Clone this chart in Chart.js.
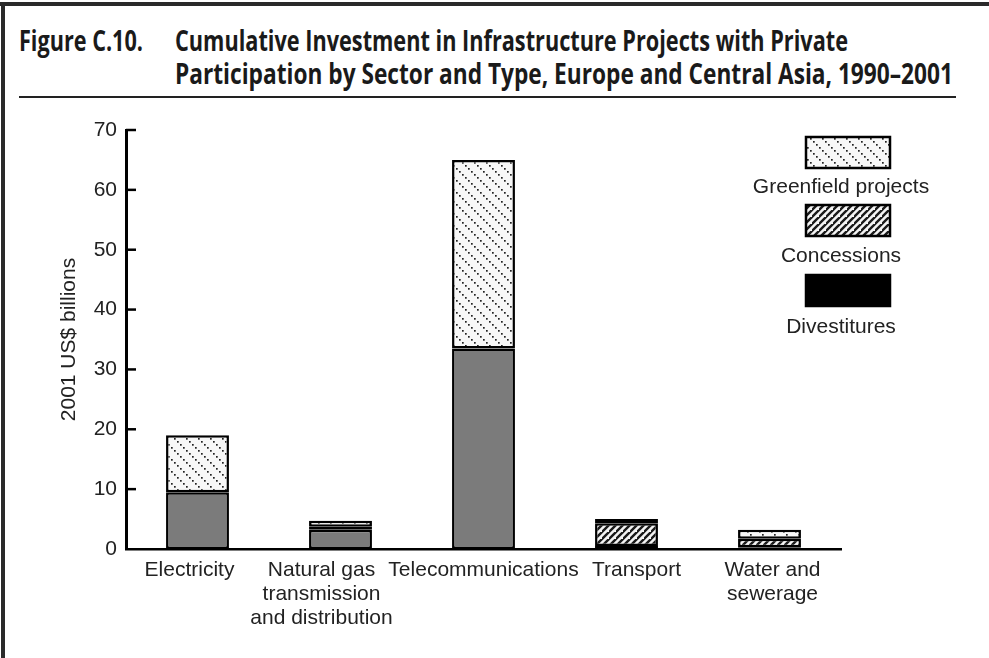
<!DOCTYPE html>
<html>
<head>
<meta charset="utf-8">
<script src="https://cdn.jsdelivr.net/npm/chart.js@4.4.1/dist/chart.umd.min.js"></script>
<style>
  html, body { margin: 0; padding: 0; background: #fff; }
  #wrap { position: relative; width: 989px; height: 658px; overflow: hidden; background: #fff; }
  #frameTop { position: absolute; left: 0; top: 2px; width: 989px; height: 4px; background: #2a2a2a; }
  #frameLeft { position: absolute; left: 1px; top: 2px; width: 4px; height: 656px; background: #2a2a2a; }
  .title { position: absolute; font-family: "Open Sans", sans-serif; font-weight: bold;
           font-size: 28px; line-height: 1; color: #1a1a1a; white-space: nowrap; transform-origin: 0 0; }
  #rule { position: absolute; left: 19px; top: 96px; width: 937px; height: 2px; background: #222; }
  canvas { position: absolute; left: 0; top: 0; }
</style>
</head>
<body>
<div id="wrap">
  <div id="frameTop"></div>
  <div id="frameLeft"></div>
  <div class="title" id="t1a" style="left:19px; top:26px;">Figure C.10.</div>
  <div class="title" id="t1b" style="left:175px; top:26px;">Cumulative Investment in Infrastructure Projects with Private</div>
  <div class="title" id="t2" style="left:175px; top:59px;">Participation by Sector and Type, Europe and Central Asia, 1990–2001</div>
  <div id="rule"></div>
  <canvas id="c" width="989" height="658"></canvas>
</div>
<script>
// ---- Data ----
const categories = [["Electricity"], ["Natural gas", "transmission", "and distribution"], ["Telecommunications"], ["Transport"], ["Water and", "sewerage"]];
const divestitures = [9.5, 3.2, 33.5, 0.5, 0.3];
const concessions = [0, 0.5, 0, 3.8, 1.4];
const greenfield = [9.5, 1.0, 31.5, 0.7, 1.5];
const yTicks = [0, 10, 20, 30, 40, 50, 60, 70];
const seriesNames = ["Greenfield projects", "Concessions", "Divestitures"];
const yTitle = "2001 US$ billions";

// label nudges (style only, pixels) so the category labels sit as in the original
const labelNudge = [-8, -19, 0, 10, 3];

// fit title widths
function fit(id, w) {
  const el = document.getElementById(id);
  const r = el.getBoundingClientRect().width;
  el.style.transform = "scaleX(" + (w / r) + ")";
}
fit("t1a", 124); fit("t1b", 673); fit("t2", 778);

// ---- Patterns ----
function greenPattern() {
  const s = 12, cv = document.createElement("canvas");
  cv.width = s; cv.height = s;
  const g = cv.getContext("2d");
  g.fillStyle = "#f7f7f7"; g.fillRect(0, 0, s, s);
  g.fillStyle = "#222";
  for (let i = 0; i < s; i += 3) { g.fillRect(i, i, 1.7, 1.7); }
  return g.createPattern(cv, "repeat");
}
function concPattern() {
  const s = 7, cv = document.createElement("canvas");
  cv.width = s; cv.height = s;
  const g = cv.getContext("2d");
  g.fillStyle = "#f4f4f4"; g.fillRect(0, 0, s, s);
  g.strokeStyle = "#1a1a1a"; g.lineWidth = 2.4;
  g.beginPath();
  g.moveTo(-1, s + 1); g.lineTo(s + 1, -1);
  g.moveTo(-1 - s, s + 1); g.lineTo(1, -1);
  g.moveTo(s - 1, 2 * s + 1); g.lineTo(2 * s + 1, s - 1);
  g.stroke();
  return g.createPattern(cv, "repeat");
}
const gp = greenPattern(), cp = concPattern();

const FONT = "'Liberation Sans', Arial, Helvetica, sans-serif";
const FS = 21;

const extras = {
  id: "extras",
  afterDraw(chart) {
    const ctx = chart.ctx, y = chart.scales.y, x = chart.scales.x, x0 = chart.chartArea.left;
    ctx.save();
    // inward y ticks
    ctx.strokeStyle = "#000"; ctx.lineWidth = 2.5;
    yTicks.forEach(v => {
      if (v === 0) return;
      const py = y.getPixelForValue(v);
      ctx.beginPath(); ctx.moveTo(x0, py); ctx.lineTo(x0 + 10, py); ctx.stroke();
    });
    // category labels
    ctx.fillStyle = "#222";
    ctx.font = FS + "px " + FONT;
    ctx.textAlign = "center"; ctx.textBaseline = "middle";
    const baseY = chart.chartArea.bottom + 21;
    categories.forEach((lines, i) => {
      const px = x.getPixelForValue(i) + labelNudge[i];
      lines.forEach((t, j) => ctx.fillText(t, px, baseY + j * 24));
    });
    // legend
    const items = [
      { fill: gp, label: seriesNames[0], by: 137, ty: 187 },
      { fill: cp, label: seriesNames[1], by: 205, ty: 256 },
      { fill: "#000", label: seriesNames[2], by: 275, ty: 327 }
    ];
    items.forEach(it => {
      ctx.fillStyle = it.fill;
      ctx.fillRect(806, it.by, 84, 31);
      ctx.strokeStyle = "#000"; ctx.lineWidth = 2.5;
      ctx.strokeRect(806, it.by, 84, 31);
      ctx.fillStyle = "#222";
      ctx.fillText(it.label, 841, it.ty);
    });
    ctx.restore();
  }
};

new Chart(document.getElementById("c"), {
  type: "bar",
  data: {
    labels: categories,
    datasets: [
      { label: seriesNames[2], data: divestitures, backgroundColor: "#7b7b7b", borderColor: "#000", borderWidth: 2.5, borderSkipped: false },
      { label: seriesNames[1], data: concessions, backgroundColor: cp, borderColor: "#000", borderWidth: 2.5, borderSkipped: false },
      { label: seriesNames[0], data: greenfield, backgroundColor: gp, borderColor: "#000", borderWidth: 2.5, borderSkipped: false }
    ]
  },
  options: {
    responsive: false,
    animation: false,
    layout: { padding: { top: 130, right: 148, left: 0, bottom: 0 } },
    plugins: { legend: { display: false }, tooltip: { enabled: false } },
    datasets: { bar: { categoryPercentage: 1, barPercentage: 0.44 } },
    scales: {
      x: {
        stacked: true,
        grid: { display: false, drawTicks: false },
        border: { display: true, color: "#000", width: 2.5 },
        ticks: { display: false },
        afterFit(s) { s.height = 109; }
      },
      y: {
        stacked: true,
        min: 0, max: 70,
        afterBuildTicks(s) { s.ticks = yTicks.map(v => ({ value: v })); },
        grid: { display: false, drawTicks: false },
        border: { display: true, color: "#000", width: 3 },
        ticks: { color: "#222", font: { family: FONT, size: FS }, padding: 9 },
        title: { display: true, text: yTitle, color: "#222", font: { family: FONT, size: FS }, padding: { top: 57, bottom: 0 } },
        afterFit(s) { s.width = 126; }
      }
    }
  },
  plugins: [extras]
});
</script>
</body>
</html>
